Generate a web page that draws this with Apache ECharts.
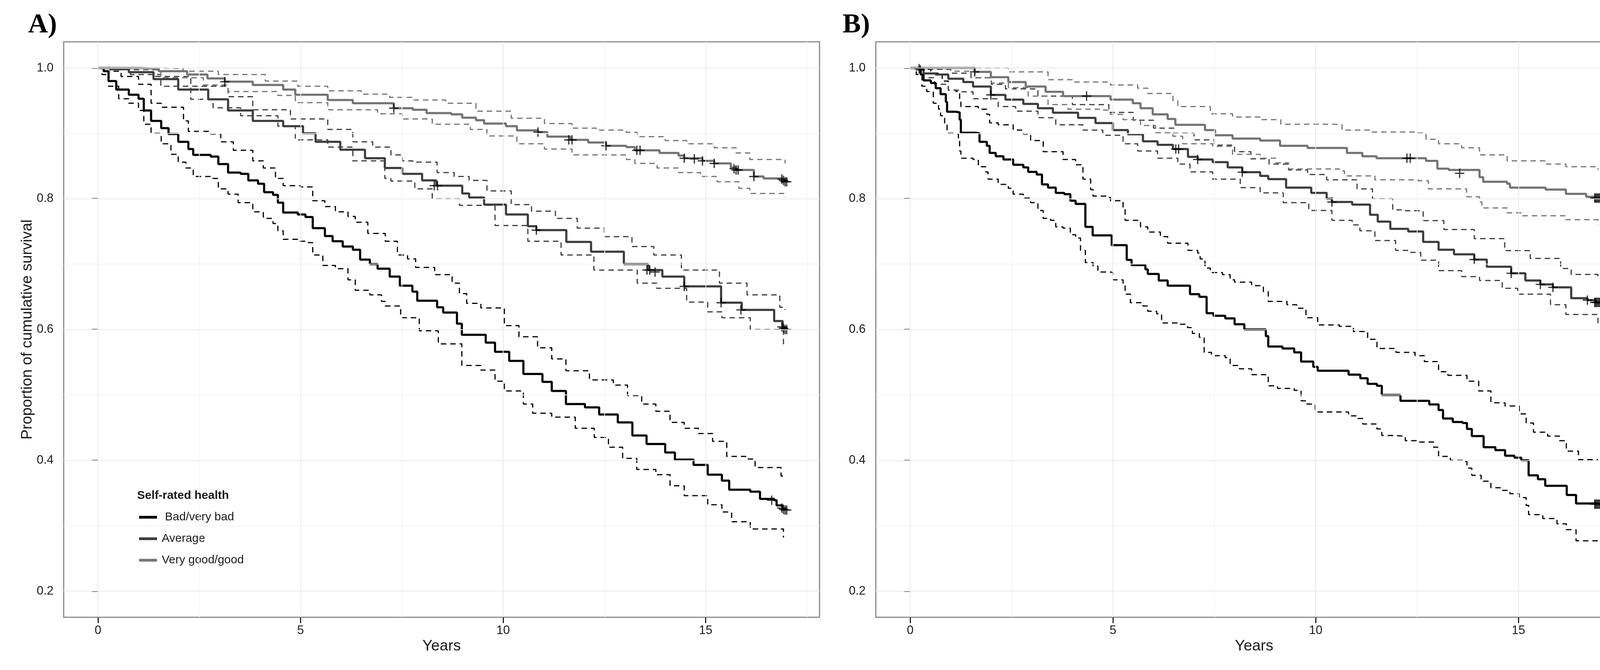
<!DOCTYPE html>
<html>
<head>
<meta charset="utf-8">
<script src="https://cdn.jsdelivr.net/npm/echarts@6/dist/echarts.min.js"></script>
<style>
html,body{margin:0;padding:0;background:#fff;}
#chart{width:4220px;height:1715px;}
</style>
</head>
<body>
<div id="chart"></div>
<script>
// ---------- tick labels / grid ----------
const xTicks = [0, 5, 10, 15];
const xMinor = [2.5, 7.5, 12.5, 17.5];
const yTicks = [0.2, 0.4, 0.6, 0.8, 1.0];
const yMinor = [0.3, 0.5, 0.7, 0.9];
const groups = ['Bad/very bad', 'Average', 'Very good/good'];
const panelLabels = ['A)', 'B)'];

// ---------- Panel A (Kaplan-Meier estimates, [years, survival]) ----------
const A_bad = [[0,1],[0.14,0.995],[0.26,0.98],[0.45,0.967],[0.76,0.959],[1.0,0.953],[1.13,0.935],[1.31,0.919],[1.56,0.908],[1.74,0.899],[1.98,0.887],[2.23,0.876],[2.35,0.867],[2.78,0.8645],[2.97,0.853],[3.21,0.84],[3.52,0.838],[3.71,0.828],[3.95,0.823],[4.1,0.81],[4.32,0.806],[4.44,0.794],[4.57,0.779],[4.93,0.776],[5.12,0.772],[5.3,0.755],[5.6,0.743],[5.79,0.735],[6.04,0.727],[6.29,0.722],[6.47,0.707],[6.71,0.70],[6.9,0.693],[7.2,0.681],[7.45,0.667],[7.76,0.658],[7.88,0.644],[8.37,0.634],[8.52,0.626],[8.86,0.609],[8.98,0.592],[9.57,0.58],[9.8,0.566],[10.15,0.552],[10.5,0.532],[10.97,0.52],[11.2,0.506],[11.55,0.486],[12.02,0.481],[12.37,0.47],[12.83,0.458],[13.19,0.438],[13.54,0.425],[14.0,0.412],[14.24,0.401],[14.7,0.393],[15.05,0.378],[15.4,0.369],[15.58,0.355],[16.1,0.352],[16.34,0.341],[16.69,0.339],[16.75,0.331],[16.9,0.325],[17.02,0.325]];
const A_bad_hi = [[0,1],[0.3,0.995],[0.57,0.987],[1.0,0.975],[1.31,0.946],[1.56,0.94],[2.11,0.919],[2.23,0.903],[2.78,0.899],[3.03,0.887],[3.34,0.874],[3.82,0.858],[4.08,0.847],[4.38,0.831],[4.57,0.82],[5.0,0.818],[5.3,0.797],[5.6,0.788],[5.86,0.78],[6.17,0.773],[6.35,0.764],[6.66,0.747],[7.09,0.735],[7.39,0.714],[7.64,0.708],[7.84,0.695],[8.31,0.684],[8.74,0.671],[8.92,0.655],[9.1,0.640],[9.45,0.633],[10.03,0.606],[10.39,0.589],[10.85,0.572],[11.2,0.555],[11.55,0.537],[12.13,0.523],[12.72,0.515],[13.07,0.499],[13.42,0.486],[13.77,0.475],[14.12,0.458],[14.47,0.449],[14.82,0.441],[15.17,0.429],[15.52,0.406],[15.99,0.402],[16.22,0.389],[16.63,0.389],[16.86,0.376],[16.96,0.375]];
const A_bad_lo = [[0,1],[0.1,0.99],[0.26,0.972],[0.51,0.953],[0.76,0.946],[1.0,0.935],[1.13,0.914],[1.31,0.9],[1.56,0.884],[1.8,0.868],[1.98,0.856],[2.17,0.847],[2.35,0.834],[2.78,0.831],[2.97,0.815],[3.21,0.807],[3.46,0.794],[3.82,0.78],[4.08,0.77],[4.32,0.762],[4.44,0.751],[4.57,0.738],[4.93,0.735],[5.12,0.733],[5.3,0.714],[5.55,0.698],[5.86,0.693],[6.17,0.676],[6.35,0.66],[6.71,0.653],[7.0,0.643],[7.09,0.636],[7.47,0.618],[7.93,0.598],[8.4,0.578],[8.98,0.545],[9.45,0.538],[9.8,0.521],[10.03,0.506],[10.5,0.486],[10.73,0.472],[11.2,0.466],[11.78,0.449],[12.25,0.435],[12.6,0.42],[12.95,0.403],[13.3,0.386],[13.77,0.378],[14.12,0.361],[14.47,0.346],[15.05,0.332],[15.4,0.321],[15.64,0.306],[16.1,0.295],[16.57,0.295],[16.92,0.282]];
const A_avg = [[0,1],[0.3,0.998],[0.76,0.9935],[1.37,0.983],[1.98,0.967],[2.72,0.952],[3.21,0.935],[3.82,0.919],[4.57,0.911],[5.06,0.9],[5.37,0.887],[5.98,0.875],[6.59,0.862],[7.08,0.847],[7.51,0.838],[8.0,0.828],[8.35,0.82],[8.99,0.808],[9.16,0.802],[9.53,0.791],[10.07,0.776],[10.61,0.758],[10.82,0.752],[11.56,0.734],[12.17,0.719],[12.98,0.70],[13.58,0.691],[13.93,0.681],[14.47,0.666],[15.38,0.641],[15.89,0.63],[16.69,0.613],[16.9,0.602],[17.02,0.602]];
const A_avg_hi = [[0,1],[0.5,0.998],[1.0,0.993],[1.37,0.987],[2.29,0.972],[3.21,0.956],[3.82,0.936],[4.75,0.922],[5.67,0.906],[6.29,0.887],[6.78,0.879],[7.23,0.867],[7.51,0.858],[7.77,0.856],[8.37,0.84],[8.79,0.834],[9.16,0.828],[9.6,0.812],[10.2,0.791],[10.7,0.781],[11.29,0.77],[11.83,0.755],[12.5,0.742],[13.18,0.727],[13.72,0.714],[14.4,0.691],[15.34,0.671],[16.02,0.653],[16.83,0.634],[16.96,0.630]];
const A_avg_lo = [[0,1],[0.8,0.99],[1.55,0.972],[2.29,0.952],[2.84,0.939],[3.52,0.927],[4.44,0.911],[4.87,0.89],[5.67,0.879],[6.29,0.858],[7.08,0.831],[7.23,0.827],[7.82,0.815],[8.25,0.80],[8.92,0.79],[9.8,0.759],[10.61,0.735],[11.43,0.714],[12.24,0.691],[13.31,0.671],[13.79,0.663],[14.53,0.642],[15.05,0.627],[15.4,0.618],[16.1,0.60],[16.92,0.576]];
const A_good = [[0,1],[1.03,0.999],[1.5,0.995],[2.2,0.99],[2.7,0.984],[3.13,0.979],[3.82,0.974],[4.57,0.967],[4.87,0.959],[5.67,0.951],[6.29,0.946],[7.3,0.9385],[7.77,0.936],[8.11,0.931],[8.72,0.929],[8.99,0.924],[9.33,0.92],[9.53,0.915],[10.07,0.911],[10.34,0.9045],[10.86,0.902],[11.09,0.895],[11.66,0.89],[12.1,0.886],[12.54,0.881],[13.04,0.879],[13.25,0.874],[13.86,0.87],[14.33,0.866],[14.47,0.862],[14.92,0.858],[15.21,0.854],[15.62,0.848],[15.75,0.844],[16.19,0.834],[16.43,0.831],[16.9,0.828],[17.02,0.828]];
const A_good_hi = [[0,1],[1.2,1.0],[1.6,0.999],[2.1,0.995],[2.97,0.99],[4.13,0.98],[4.93,0.972],[5.67,0.965],[6.5,0.96],[7.2,0.955],[7.77,0.951],[8.58,0.946],[9.33,0.934],[10.2,0.923],[11.02,0.915],[11.7,0.908],[12.3,0.905],[13.04,0.9015],[13.31,0.895],[14.0,0.889],[14.53,0.884],[15.21,0.878],[15.75,0.87],[16.09,0.86],[16.96,0.854]];
const A_good_lo = [[0,1],[0.8,0.997],[1.55,0.985],[2.6,0.974],[3.21,0.964],[4.44,0.958],[4.87,0.947],[5.67,0.936],[6.9,0.93],[7.51,0.922],[8.25,0.914],[9.19,0.906],[9.6,0.896],[10.34,0.884],[11.02,0.876],[11.7,0.867],[13.04,0.86],[13.25,0.854],[13.8,0.847],[14.33,0.84],[14.87,0.834],[15.28,0.826],[15.82,0.816],[16.09,0.808],[16.96,0.803]];
// censored observations (+)
const A_cens_bad = [[16.63,0.339],[16.88,0.327],[16.92,0.325],[16.96,0.324],[17.0,0.324]];
const A_cens_avg = [[8.3,0.82],[8.38,0.82],[10.82,0.752],[13.55,0.691],[13.62,0.691],[13.75,0.688],[14.47,0.666],[15.38,0.641],[15.87,0.63],[16.88,0.604],[16.92,0.602],[16.96,0.600],[17.0,0.600]];
const A_cens_good = [[3.13,0.979],[7.3,0.9385],[10.86,0.902],[11.62,0.89],[11.7,0.89],[12.54,0.881],[13.3,0.874],[13.38,0.874],[14.47,0.862],[14.72,0.861],[14.92,0.858],[15.21,0.854],[15.7,0.846],[15.75,0.844],[15.8,0.844],[16.19,0.834],[16.88,0.83],[16.92,0.828],[16.96,0.826],[17.0,0.826]];

// ---------- Panel B ----------
const B_bad = [[0,1],[0.26,0.99],[0.33,0.981],[0.51,0.977],[0.63,0.969],[0.75,0.96],[0.88,0.948],[0.91,0.933],[1.13,0.932],[1.22,0.921],[1.25,0.901],[1.62,0.9],[1.71,0.887],[1.89,0.881],[1.96,0.87],[2.11,0.865],[2.3,0.86],[2.54,0.852],[2.79,0.848],[2.91,0.841],[3.12,0.837],[3.25,0.822],[3.4,0.817],[3.59,0.809],[3.8,0.807],[3.95,0.797],[4.08,0.792],[4.32,0.757],[4.5,0.744],[4.97,0.729],[5.34,0.7065],[5.46,0.6985],[5.8,0.692],[5.86,0.685],[6.13,0.675],[6.35,0.667],[6.9,0.654],[7.13,0.65],[7.31,0.625],[7.48,0.621],[7.77,0.617],[8.0,0.608],[8.24,0.60],[8.77,0.59],[8.83,0.574],[9.18,0.571],[9.47,0.565],[9.64,0.551],[9.94,0.543],[10.05,0.537],[10.81,0.531],[11.1,0.5255],[11.28,0.517],[11.51,0.514],[11.63,0.50],[12.09,0.491],[12.8,0.4855],[13.03,0.477],[13.14,0.464],[13.38,0.4585],[13.62,0.457],[13.73,0.448],[13.85,0.437],[14.14,0.42],[14.43,0.4155],[14.67,0.407],[14.9,0.404],[15.07,0.40],[15.25,0.377],[15.48,0.371],[15.66,0.361],[16.19,0.347],[16.42,0.334],[16.9,0.333],[17.06,0.333]];
const B_bad_hi = [[0,1],[0.3,0.998],[0.51,0.992],[0.79,0.98],[0.94,0.966],[1.13,0.964],[1.22,0.95],[1.25,0.941],[1.68,0.937],[1.89,0.929],[1.96,0.916],[2.17,0.913],[2.54,0.905],[2.79,0.899],[2.97,0.889],[3.28,0.872],[3.77,0.86],[4.08,0.852],[4.26,0.83],[4.45,0.814],[4.51,0.804],[4.88,0.802],[4.94,0.797],[5.25,0.786],[5.3,0.767],[5.68,0.757],[5.86,0.749],[6.17,0.742],[6.35,0.732],[6.85,0.721],[7.09,0.717],[7.15,0.708],[7.27,0.694],[7.4,0.687],[7.7,0.684],[7.89,0.676],[8.0,0.6725],[8.42,0.667],[8.71,0.658],[8.83,0.643],[9.29,0.638],[9.53,0.6325],[9.76,0.618],[10.05,0.607],[10.58,0.605],[10.93,0.597],[11.28,0.585],[11.51,0.571],[11.98,0.565],[12.45,0.56],[12.68,0.551],[13.03,0.5355],[13.26,0.53],[13.73,0.521],[14.02,0.506],[14.32,0.488],[14.67,0.483],[15.02,0.471],[15.19,0.457],[15.37,0.443],[15.72,0.437],[16.01,0.43],[16.18,0.414],[16.48,0.401],[16.96,0.401]];
const B_bad_lo = [[0,1],[0.15,0.99],[0.29,0.972],[0.41,0.964],[0.57,0.946],[0.7,0.937],[0.75,0.927],[0.85,0.913],[0.91,0.9],[1.06,0.899],[1.19,0.889],[1.22,0.873],[1.25,0.862],[1.55,0.86],[1.68,0.849],[1.86,0.841],[1.92,0.83],[2.17,0.822],[2.42,0.816],[2.54,0.807],[2.79,0.801],[2.97,0.794],[3.15,0.782],[3.28,0.77],[3.46,0.767],[3.59,0.757],[3.77,0.755],[3.95,0.745],[4.08,0.74],[4.2,0.721],[4.32,0.7025],[4.51,0.697],[4.63,0.688],[4.94,0.687],[5.0,0.676],[5.25,0.67],[5.3,0.654],[5.43,0.641],[5.74,0.636],[5.86,0.628],[6.08,0.624],[6.2,0.61],[6.6,0.608],[6.84,0.603],[6.96,0.594],[7.13,0.588],[7.25,0.565],[7.43,0.56],[7.77,0.557],[7.89,0.545],[8.12,0.54],[8.42,0.531],[8.77,0.528],[8.83,0.514],[9.06,0.51],[9.47,0.507],[9.64,0.491],[9.76,0.486],[9.99,0.474],[10.81,0.468],[11.04,0.464],[11.16,0.4555],[11.51,0.448],[11.63,0.438],[11.92,0.437],[12.21,0.43],[12.56,0.428],[12.91,0.42],[13.03,0.406],[13.32,0.40],[13.62,0.398],[13.73,0.388],[13.85,0.377],[14.08,0.368],[14.32,0.358],[14.55,0.354],[14.79,0.349],[15.02,0.343],[15.19,0.331],[15.25,0.317],[15.6,0.311],[15.95,0.303],[16.18,0.294],[16.42,0.277],[16.96,0.277]];
const B_avg = [[0,1],[0.33,0.9916],[0.63,0.99],[0.94,0.9836],[1.31,0.9785],[1.55,0.9716],[1.99,0.9588],[2.35,0.9516],[2.79,0.945],[3.15,0.9385],[3.52,0.9316],[4.14,0.9236],[4.57,0.9158],[5.0,0.905],[5.37,0.8985],[5.74,0.8878],[6.1,0.8824],[6.48,0.876],[6.85,0.864],[7.09,0.86],[7.46,0.856],[7.83,0.848],[8.19,0.8406],[8.63,0.835],[8.83,0.83],[9.27,0.817],[9.89,0.809],[10.27,0.80],[10.4,0.795],[10.9,0.791],[11.34,0.7755],[11.53,0.765],[11.84,0.754],[12.28,0.75],[12.65,0.734],[13.03,0.722],[13.41,0.715],[13.91,0.707],[14.22,0.696],[14.82,0.686],[15.17,0.675],[15.54,0.669],[15.85,0.6645],[16.3,0.648],[16.7,0.645],[16.9,0.6415],[17.06,0.6415]];
const B_avg_hi = [[0,1],[0.5,0.998],[1.0,0.992],[1.5,0.985],[2.0,0.975],[2.35,0.968],[3.15,0.957],[4.0,0.944],[4.9,0.932],[5.5,0.92],[6.0,0.908],[6.5,0.9],[7.0,0.89],[7.5,0.882],[8.0,0.872],[8.4,0.861],[8.85,0.853],[9.33,0.844],[9.8,0.837],[10.27,0.829],[11.02,0.815],[11.4,0.80],[11.9,0.783],[12.22,0.7816],[12.65,0.7666],[13.16,0.753],[13.91,0.739],[14.66,0.7207],[15.29,0.7087],[16.04,0.6933],[16.3,0.6842],[16.96,0.6765]];
const B_avg_lo = [[0,1],[0.3,0.985],[0.6,0.975],[0.94,0.966],[1.25,0.9636],[1.55,0.953],[2.17,0.941],[2.6,0.934],[3.15,0.924],[3.59,0.913],[4.26,0.905],[4.75,0.897],[5.25,0.884],[5.61,0.873],[6.1,0.862],[6.6,0.853],[6.9,0.841],[7.46,0.83],[8.14,0.817],[8.63,0.809],[9.2,0.794],[9.83,0.782],[10.4,0.767],[10.9,0.76],[11.09,0.751],[11.46,0.736],[11.97,0.721],[12.34,0.718],[12.59,0.706],[13.03,0.69],[13.6,0.681],[14.04,0.675],[14.6,0.663],[14.98,0.654],[15.79,0.638],[16.17,0.623],[16.96,0.6096]];
const B_good = [[0,1],[1.59,0.994],[1.99,0.986],[2.42,0.9785],[2.85,0.9716],[3.34,0.9636],[3.77,0.957],[4.94,0.9516],[5.49,0.946],[5.68,0.9385],[5.98,0.929],[6.35,0.922],[6.54,0.913],[7.27,0.905],[7.52,0.897],[7.95,0.892],[8.63,0.889],[9.12,0.881],[9.8,0.8776],[10.77,0.87],[11.15,0.865],[11.5,0.862],[12.72,0.858],[13.0,0.846],[13.28,0.844],[14.04,0.833],[14.13,0.826],[14.72,0.823],[14.79,0.817],[15.67,0.814],[16.17,0.8075],[16.67,0.803],[16.9,0.801],[17.06,0.801]];
const B_good_hi = [[0,1],[1.99,1.0],[2.42,0.994],[3.4,0.982],[4.01,0.9785],[4.94,0.974],[5.61,0.969],[5.86,0.961],[6.48,0.95],[6.6,0.941],[7.4,0.93],[7.95,0.925],[8.63,0.921],[9.14,0.914],[10.46,0.913],[10.65,0.905],[11.34,0.902],[12.53,0.9004],[12.72,0.891],[13.03,0.884],[13.6,0.878],[14.04,0.867],[14.72,0.858],[15.67,0.853],[16.17,0.849],[16.96,0.844]];
const B_good_lo = [[0,1],[0.5,0.999],[1.0,0.995],[1.6,0.985],[2.0,0.977],[2.42,0.97],[2.91,0.957],[3.4,0.944],[3.89,0.937],[4.75,0.9356],[4.94,0.929],[5.25,0.921],[5.68,0.912],[6.05,0.901],[6.48,0.8956],[6.72,0.884],[7.46,0.88],[7.95,0.868],[8.63,0.862],[9.02,0.855],[9.33,0.8456],[10.58,0.8426],[10.71,0.835],[11.46,0.829],[12.53,0.8275],[12.78,0.815],[13.72,0.803],[14.04,0.795],[14.1,0.786],[14.72,0.7785],[15.1,0.774],[16.17,0.768],[16.96,0.760]];
const B_cens_bad = [[16.88,0.333],[16.91,0.333],[16.94,0.333],[16.97,0.333],[17.0,0.333]];
const B_cens_avg = [[0.25,0.997],[1.99,0.9588],[6.55,0.876],[6.62,0.876],[7.09,0.86],[8.19,0.8406],[10.4,0.795],[13.91,0.707],[14.82,0.686],[15.54,0.669],[15.85,0.6645],[16.7,0.645],[16.88,0.6415],[16.91,0.6415],[16.94,0.6415],[16.97,0.6415],[17.0,0.6415]];
const B_cens_good = [[0.22,0.999],[1.59,0.994],[4.35,0.957],[12.25,0.862],[12.33,0.862],[13.55,0.839],[16.88,0.801],[16.91,0.801],[16.94,0.801],[16.97,0.801],[17.0,0.801]];

const panels = [
  {est: [A_bad, A_avg, A_good], hi: [A_bad_hi, A_avg_hi, A_good_hi], lo: [A_bad_lo, A_avg_lo, A_good_lo], cens: [A_cens_bad, A_cens_avg, A_cens_good]},
  {est: [B_bad, B_avg, B_good], hi: [B_bad_hi, B_avg_hi, B_good_hi], lo: [B_bad_lo, B_avg_lo, B_good_lo], cens: [B_cens_bad, B_cens_avg, B_cens_good]}
];

// ---------- styling ----------
const colors = ['#000000', '#3d3d3d', '#747474'];
const FONT = 'Liberation Sans, Arial, sans-serif';
const textColor = '#1a1a1a';
const PLUS = 'path://M8.7,0H11.3V8.7H20V11.3H11.3V20H8.7V11.3H0V8.7H8.7Z';

const gridPos = [
  {left: 163, top: 107, width: 1935, height: 1473},
  {left: 2242, top: 107, width: 1937, height: 1473}
];

const grids = gridPos.map(g => Object.assign({
  show: true, borderColor: '#8a8a8a', borderWidth: 3, backgroundColor: '#ffffff', containLabel: false
}, g));

const xAxes = gridPos.map((g, i) => ({
  type: 'value', gridIndex: i, min: -0.848, max: 17.81,
  name: 'Years', nameLocation: 'middle', nameGap: 52,
  nameTextStyle: {fontSize: 39, fontFamily: FONT, color: textColor},
  axisLine: {show: false},
  splitLine: {show: false},
  axisTick: {show: true, customValues: xTicks, length: 15, lineStyle: {color: '#222222', width: 3}},
  axisLabel: {show: true, customValues: xTicks, margin: 19, fontSize: 31, fontFamily: FONT, color: textColor,
    formatter: v => String(v)}
}));

const yAxes = gridPos.map((g, i) => ({
  type: 'value', gridIndex: i, min: 0.16, max: 1.04,
  name: i === 0 ? 'Proportion of cumulative survival' : '',
  nameLocation: 'middle', nameGap: 68, nameRotate: 90,
  nameTextStyle: {fontSize: 39, fontFamily: FONT, color: textColor},
  axisLine: {show: false},
  splitLine: {show: false},
  axisTick: {show: true, customValues: yTicks, length: 15, lineStyle: {color: '#222222', width: 3}},
  axisLabel: {show: true, customValues: yTicks, margin: 26, fontSize: 31, fontFamily: FONT, color: textColor,
    formatter: v => Number(v).toFixed(1)}
}));

const series = [];
panels.forEach((p, pi) => {
  // grid lines (major + minor) drawn with the axes' own scales
  const gl = [];
  xMinor.forEach(v => gl.push({xAxis: v, lineStyle: {color: '#f5f5f5', width: 2, type: 'solid'}}));
  yMinor.forEach(v => gl.push({yAxis: v, lineStyle: {color: '#f5f5f5', width: 2, type: 'solid'}}));
  xTicks.forEach(v => gl.push({xAxis: v, lineStyle: {color: '#e9e9e9', width: 2, type: 'solid'}}));
  yTicks.forEach(v => gl.push({yAxis: v, lineStyle: {color: '#e9e9e9', width: 2, type: 'solid'}}));
  series.push({
    type: 'line', name: 'grid' + pi, xAxisIndex: pi, yAxisIndex: pi, data: [], z: 0, silent: true,
    markLine: {silent: true, symbol: ['none', 'none'], label: {show: false}, animation: false, data: gl}
  });
  for (let g = 0; g < 3; g++) {
    [p.hi[g], p.lo[g]].forEach(ci => series.push({
      type: 'line', xAxisIndex: pi, yAxisIndex: pi, data: ci, step: 'end', symbol: 'none', z: 2,
      lineStyle: {color: colors[g], width: 3, type: [14, 10]}, silent: true
    }));
  }
  for (let g = 0; g < 3; g++) {
    series.push({
      type: 'line', name: groups[g], xAxisIndex: pi, yAxisIndex: pi, data: p.est[g], step: 'end',
      symbol: 'none', z: 3, lineStyle: {color: colors[g], width: 5.5}, itemStyle: {color: colors[g]}
    });
  }
  for (let g = 0; g < 3; g++) {
    series.push({
      type: 'scatter', xAxisIndex: pi, yAxisIndex: pi, data: p.cens[g], symbol: PLUS, symbolSize: 24,
      z: 4, itemStyle: {color: '#000000'}, silent: true
    });
  }
});

const option = {
  animation: false,
  backgroundColor: '#ffffff',
  title: [
    {text: panelLabels[0], left: 72, top: 30, padding: 0,
      textStyle: {fontFamily: 'Liberation Serif, Times New Roman, serif', fontWeight: 'bold', fontSize: 70, color: '#000'}},
    {text: panelLabels[1], left: 2157, top: 30, padding: 0,
      textStyle: {fontFamily: 'Liberation Serif, Times New Roman, serif', fontWeight: 'bold', fontSize: 70, color: '#000'}},
    {text: 'Self-rated health', left: 351, top: 1254, padding: 0,
      textStyle: {fontFamily: FONT, fontWeight: 'bold', fontSize: 30, color: textColor}}
  ],
  legend: {
    data: groups, orient: 'vertical', left: 356, top: 1309, padding: 0,
    itemWidth: 46, itemHeight: 7, itemGap: 25, icon: 'rect',
    formatter: n => (n === 'Bad/very bad' ? ' ' + n : n),
    textStyle: {fontFamily: FONT, fontSize: 30, color: textColor, lineHeight: 30, padding: [0, 0, 0, 7]},
    selectedMode: false
  },
  grid: grids,
  xAxis: xAxes,
  yAxis: yAxes,
  series: series
};

const chart = echarts.init(document.getElementById('chart'), null, {renderer: 'canvas'});
chart.setOption(option);
</script>
</body>
</html>
